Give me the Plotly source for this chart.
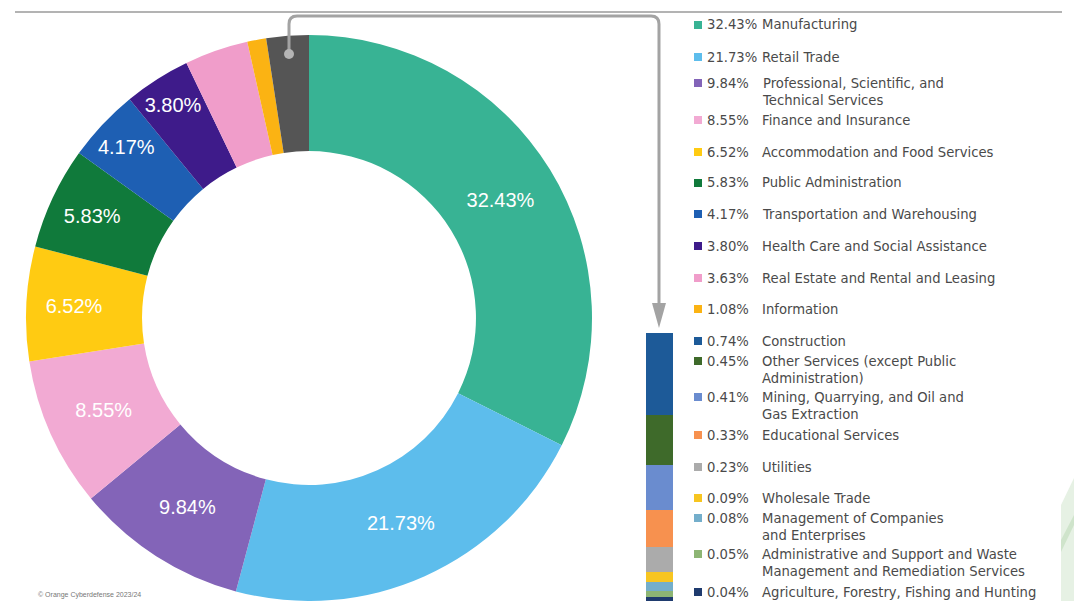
import plotly.graph_objects as go

# ---------------- data ----------------
top_labels = [
    "Manufacturing",
    "Retail Trade",
    "Professional, Scientific, and\nTechnical Services",
    "Finance and Insurance",
    "Accommodation and Food Services",
    "Public Administration",
    "Transportation and Warehousing",
    "Health Care and Social Assistance",
    "Real Estate and Rental and Leasing",
    "Information",
]
top_values = [32.43, 21.73, 9.84, 8.55, 6.52, 5.83, 4.17, 3.80, 3.63, 1.08]
top_colors = ["#38B394", "#5DBDEC", "#8364B8", "#F2AAD3", "#FFCB12",
              "#107A3B", "#1E5FB3", "#3E1B8A", "#F09DCA", "#FBB313"]

other_labels = [
    "Construction",
    "Other Services (except Public\nAdministration)",
    "Mining, Quarrying, and Oil and\nGas Extraction",
    "Educational Services",
    "Utilities",
    "Wholesale Trade",
    "Management of Companies\nand Enterprises",
    "Administrative and Support and Waste\nManagement and Remediation Services",
    "Agriculture, Forestry, Fishing and Hunting",
]
other_values = [0.74, 0.45, 0.41, 0.33, 0.23, 0.09, 0.08, 0.05, 0.04]
other_colors = ["#1D5A98", "#3E6A2A", "#6A8CCF", "#F7914F", "#ABABAB",
                "#F7C520", "#74AECB", "#8DB574", "#1F3B6E"]
other_group_color = "#555555"
copyright_text = "© Orange Cyberdefense 2023/24"

# ---------------- layout helpers ----------------
W, H = 1074, 601
def px(x):
    return x / W
def py(y):
    return 1 - y / H

TEXT_COL = "#4a4a4a"
LEG_SIZE = 13.2
LEG_FONT = dict(family="DejaVu Sans", size=LEG_SIZE, color=TEXT_COL)
LEGEND_ROW_Y = [25, 57, 83, 120, 152, 183, 214, 246, 278, 309,
                341, 361, 397, 435, 467, 498, 518, 554, 592]
LINE_H = 1.3 * LEG_SIZE

fig = go.Figure()

# ---------------- donut ----------------
pie_labels = [l.replace("\n", " ") for l in top_labels] + ["Other"]
pie_values = top_values + [round(sum(other_values), 2)]
pie_colors = top_colors + [other_group_color]
pie_text = [f"{v:.2f}%" if v >= 3.7 else "" for v in top_values] + [""]

cx, cy, r = 309, 318, 283
fig.add_trace(go.Pie(
    labels=pie_labels, values=pie_values, text=pie_text,
    textinfo="text", textposition="inside", insidetextorientation="horizontal",
    textfont=dict(family="Liberation Sans", size=20, color="white"),
    marker=dict(colors=pie_colors, line=dict(width=0)),
    hole=0.59, sort=False, direction="clockwise", rotation=0,
    domain=dict(x=[px(cx - r), px(cx + r)], y=[0, py(cy - r)]),
    showlegend=False, hoverinfo="label+value",
))

# ---------------- stacked bar for "other" ----------------
for lab, val, col in zip(other_labels, other_values, other_colors):
    fig.add_trace(go.Bar(
        x=[0], y=[val], name=lab.replace("\n", " "),
        marker=dict(color=col, line=dict(width=0)),
        width=1, xaxis="x", yaxis="y", showlegend=False,
    ))

# ---------------- legend list ----------------
all_labels = top_labels + other_labels
all_values = top_values + other_values
all_colors = top_colors + other_colors
shapes = []
annotations = []
for lab, val, col, ry in zip(all_labels, all_values, all_colors, LEGEND_ROW_Y):
    shapes.append(dict(type="rect", xref="paper", yref="paper",
                       x0=px(694), x1=px(702), y0=py(ry + 4), y1=py(ry - 4),
                       fillcolor=col, line=dict(width=0)))
    annotations.append(dict(x=px(705), y=py(ry), xref="paper", yref="paper",
                            text=f"{val:.2f}%", showarrow=False, xanchor="left",
                            yanchor="middle", font=LEG_FONT))
    lines = lab.split("\n")
    yc = ry + (len(lines) - 1) * LINE_H / 2
    annotations.append(dict(x=px(760), y=py(yc), xref="paper", yref="paper",
                            text="<br>".join(lines), showarrow=False, xanchor="left",
                            align="left", yanchor="middle", font=LEG_FONT))

# ---------------- arrow from grey slice to bar ----------------
def P(x, y):
    return f"{px(x):.5f},{py(y):.5f}"
arrow_col = "#a3a3a3"
shapes.append(dict(type="path", xref="paper", yref="paper",
                   path=f"M {P(289,54)} L {P(289,24)} Q {P(289,16)} {P(297,16)} "
                        f"L {P(651,16)} Q {P(659,16)} {P(659,24)} L {P(659,306)}",
                   line=dict(color=arrow_col, width=3)))
shapes.append(dict(type="path", xref="paper", yref="paper",
                   path=f"M {P(652,303)} L {P(666,303)} L {P(659,328)} Z",
                   fillcolor=arrow_col, line=dict(width=0)))
shapes.append(dict(type="circle", xref="paper", yref="paper",
                   x0=px(284), x1=px(294), y0=py(59), y1=py(49),
                   fillcolor="#b5b5b5", line=dict(width=0)))
# separator line at top
shapes.append(dict(type="line", xref="paper", yref="paper",
                   x0=px(15), x1=px(1062), y0=py(12), y1=py(12),
                   line=dict(color="#9a9a9a", width=1.5)))
# faint decoration bottom-right
shapes.append(dict(type="path", xref="paper", yref="paper",
                   path=f"M {P(1061,505)} L {P(1074,478)} L {P(1074,601)} L {P(1061,601)} Z",
                   fillcolor="#e6f1e4", line=dict(width=0)))
shapes.append(dict(type="path", xref="paper", yref="paper",
                   path=f"M {P(1061,540)} L {P(1074,515)} L {P(1074,525)} L {P(1061,552)} Z",
                   fillcolor="#cfe4cb", line=dict(width=0)))

annotations.append(dict(x=px(36), y=py(595), xref="paper", yref="paper",
                        text=copyright_text, showarrow=False, xanchor="left",
                        yanchor="middle", font=dict(family="Liberation Sans", size=7, color="#777777")))

fig.update_layout(
    width=W, height=H, margin=dict(l=0, r=0, t=0, b=0),
    paper_bgcolor="white", plot_bgcolor="white",
    barmode="stack", bargap=0,
    xaxis=dict(domain=[px(646), px(673)], range=[-0.5, 0.5], visible=False, fixedrange=True),
    yaxis=dict(domain=[0, py(333)], range=[round(sum(other_values), 2), 0], visible=False, fixedrange=True),
    uniformtext=dict(minsize=20, mode="show"),
    shapes=shapes, annotations=annotations, showlegend=False,
)

fig.write_html("out.html")
